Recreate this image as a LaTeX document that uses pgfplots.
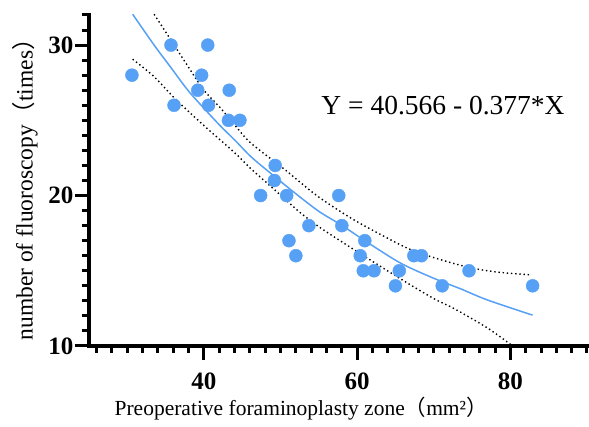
\documentclass[border=0pt]{standalone}
\usepackage{pgfplots}
\pgfplotsset{compat=1.18}
\usepackage{fontspec}
\setmainfont{Liberation Serif}
\newfontfamily\cjk{Noto Sans CJK SC}
\definecolor{ptblue}{RGB}{86,160,245}

\begin{document}
\begin{tikzpicture}
\useasboundingbox (-89pt,-81pt) rectangle (500pt,346pt);
\begin{axis}[
  at={(0pt,0pt)}, anchor=south west,
  width=498pt, height=331pt, scale only axis,
  xmin=25, xmax=90, ymin=10, ymax=32,
  axis lines=left,
  axis line style={-, line width=3.5pt, line cap=rect},
  tick align=outside,
  major tick length=14pt, minor tick length=7pt,
  tick style={black, line width=3pt},
  xtick={40,60,80}, minor xtick={26,28,...,90},
  ytick={10,20,30}, minor ytick={11,12,...,32},
  /pgf/number format/assume math mode=true,
  tick label style={font=\fontsize{25}{28}\selectfont\bfseries},
  xticklabel style={anchor=center, yshift=-21pt},
  yticklabel style={anchor=center, xshift=-14pt},
  xlabel={Preoperative foraminoplasty zone{\cjk （}mm²{\cjk ）}},
  ylabel={number of fluoroscopy{\cjk （}times{\cjk ）}},
  xlabel style={at={(axis description cs:0.426,-0.188)}, anchor=center, font=\fontsize{21.5}{25}\selectfont},
  ylabel style={at={(axis description cs:-0.1285,0.49)}, anchor=center, font=\fontsize{23.5}{26}\selectfont},
  clip=false,
]
% fitted curve
\addplot[ptblue, line width=1.5pt, smooth] coordinates {
(30.7,32.05) (33.5,30.0) (35.7,28.5) (37.9,27.0) (40.0,25.8) (42.2,24.6)
(44.0,23.7) (46.1,22.6) (48.3,21.65) (51.8,20.2) (55.0,18.95) (57.9,18.05)
(61.3,16.9) (65.7,15.5) (70.0,14.5) (73.5,13.8) (77.0,13.06) (82.9,12.05)};
% upper band
\addplot[black, line width=1.4pt, dash pattern=on 1.4pt off 2.8pt, smooth] coordinates {
(33.5,32.05) (35.7,30.33) (37.9,28.6) (40.0,27.0) (42.2,25.8) (44.0,24.7)
(46.1,23.5) (50.5,21.75) (54.8,19.97) (59.2,18.5) (63.1,17.4) (67.0,16.4)
(70.8,15.75) (74.8,15.2) (78.5,14.9) (82.6,14.73)};
% lower band
\addplot[black, line width=1.4pt, dash pattern=on 1.4pt off 2.8pt, smooth] coordinates {
(30.7,29.06) (33.5,27.9) (36.3,26.4) (40.0,24.65) (44.0,22.85) (46.1,21.8)
(48.3,20.8) (50.5,19.8) (52.6,18.85) (54.8,18.0) (57.0,17.25) (61.3,15.85)
(65.7,14.45) (70.0,13.15) (72.6,12.5) (77.0,11.2) (80.3,10.0)};
% data
\addplot[ptblue, only marks, mark=*, mark size=6.5pt, mark options={draw=ptblue, fill=ptblue}] coordinates {
(30.6,28) (35.7,30) (36.1,26) (40.5,30) (39.7,28) (39.2,27) (40.6,26)
(43.3,27) (43.2,25) (44.7,25) (47.4,20) (49.3,22) (49.2,21) (50.8,20)
(51.1,17) (52.0,16) (53.7,18) (57.6,20) (58.0,18) (61.0,17) (60.4,16)
(60.8,15) (62.2,15) (65.5,15) (65.0,14) (67.4,16) (68.4,16) (71.1,14)
(74.6,15) (82.9,14)};
\node[font=\fontsize{27.5}{30}\selectfont] at (axis cs:71.2,26.0) {Y = 40.566 - 0.377*X};
\end{axis}
\end{tikzpicture}
\end{document}
